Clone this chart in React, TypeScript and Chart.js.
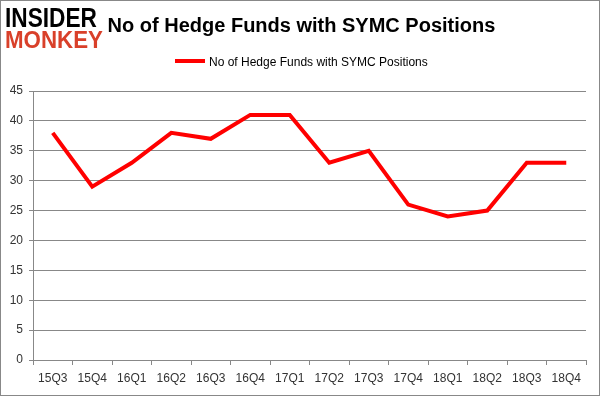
import React, { useEffect, useRef } from "react";
import { Chart, registerables } from "chart.js";

Chart.register(...registerables);

const categories = ["15Q3", "15Q4", "16Q1", "16Q2", "16Q3", "16Q4", "17Q1", "17Q2", "17Q3", "17Q4", "18Q1", "18Q2", "18Q3", "18Q4"];
const hedgeFundCounts = [38, 29, 33, 38, 37, 41, 41, 33, 35, 26, 24, 25, 33, 33];
const seriesLabel = "No of Hedge Funds with SYMC Positions";
const chartTitle = "No of Hedge Funds with SYMC Positions";
const yTickMin = 0;
const yTickMax = 45;
const yTickStep = 5;

const FONT = "'Liberation Sans', Arial, sans-serif";
const GRID = "#888888";
const LABEL = "#333333";

export default function App() {
  const canvasRef = useRef<HTMLCanvasElement | null>(null);

  useEffect(() => {
    if (!canvasRef.current) return;
    const chart = new Chart(canvasRef.current, {
      type: "line",
      data: {
        labels: categories,
        datasets: [
          {
            label: seriesLabel,
            data: hedgeFundCounts,
            borderColor: "#ff0000",
            backgroundColor: "#ff0000",
            borderWidth: 4,
            pointRadius: 0,
            pointHoverRadius: 0,
            tension: 0,
            fill: false,
          },
        ],
      },
      options: {
        responsive: false,
        animation: false,
        devicePixelRatio: 1,
        layout: { padding: { top: 91, right: 15, left: 0, bottom: 0 } },
        plugins: {
          legend: { display: false },
          title: { display: false },
          tooltip: { enabled: false },
        },
        scales: {
          x: {
            offset: true,
            grid: {
              offset: true,
              drawOnChartArea: false,
              drawTicks: true,
              tickLength: 5,
              color: GRID,
            },
            border: { display: true, color: GRID },
            ticks: {
              color: LABEL,
              font: { family: FONT, size: 12 },
              padding: 6,
              maxRotation: 0,
              autoSkip: false,
            },
            afterFit: (s: any) => {
              s.height = 36;
            },
          },
          y: {
            min: yTickMin,
            max: yTickMax,
            ticks: {
              stepSize: yTickStep,
              color: LABEL,
              font: { family: FONT, size: 12 },
              padding: 6,
            },
            grid: { color: GRID, lineWidth: 1, tickLength: 4, drawTicks: true },
            border: { display: true, color: GRID },
            afterFit: (s: any) => {
              s.width = 33;
            },
          },
        },
      },
    });
    return () => chart.destroy();
  }, []);

  return (
    <div style={{ position: "absolute", left: 0, top: 0, width: 601, height: 396, background: "#fff", overflow: "hidden", fontFamily: FONT }}>
      <canvas ref={canvasRef} width={601} height={396} style={{ position: "absolute", left: 0, top: 0, display: "block" }} />
      <div style={{ position: "absolute", left: 0, top: 0, width: 598, height: 394, border: "1px solid #888", pointerEvents: "none" }} />
      <div style={{ position: "absolute", left: 0, top: 15.4, width: 603, textAlign: "center", fontSize: 20, lineHeight: "20px", fontWeight: 700, color: "#000", whiteSpace: "nowrap" }}>
        {chartTitle}
      </div>
      <div style={{ position: "absolute", left: 175, top: 59, width: 30, height: 4, background: "#ff0000" }} />
      <div style={{ position: "absolute", left: 209, top: 55.5, fontSize: 12, lineHeight: "12px", color: "#000", whiteSpace: "nowrap" }}>
        {seriesLabel}
      </div>
      <div style={{ position: "absolute", left: 5, top: 4.5, fontSize: 27, lineHeight: "27px", fontWeight: 900, color: "#000", whiteSpace: "nowrap", transform: "scaleX(0.84)", transformOrigin: "left top", letterSpacing: 0 }}>
        INSIDER
      </div>
      <div style={{ position: "absolute", left: 5, top: 28, fontSize: 24, lineHeight: "24px", fontWeight: 900, color: "#d9402a", whiteSpace: "nowrap", transform: "scaleX(0.93)", transformOrigin: "left top" }}>
        MONKEY
      </div>
    </div>
  );
}
